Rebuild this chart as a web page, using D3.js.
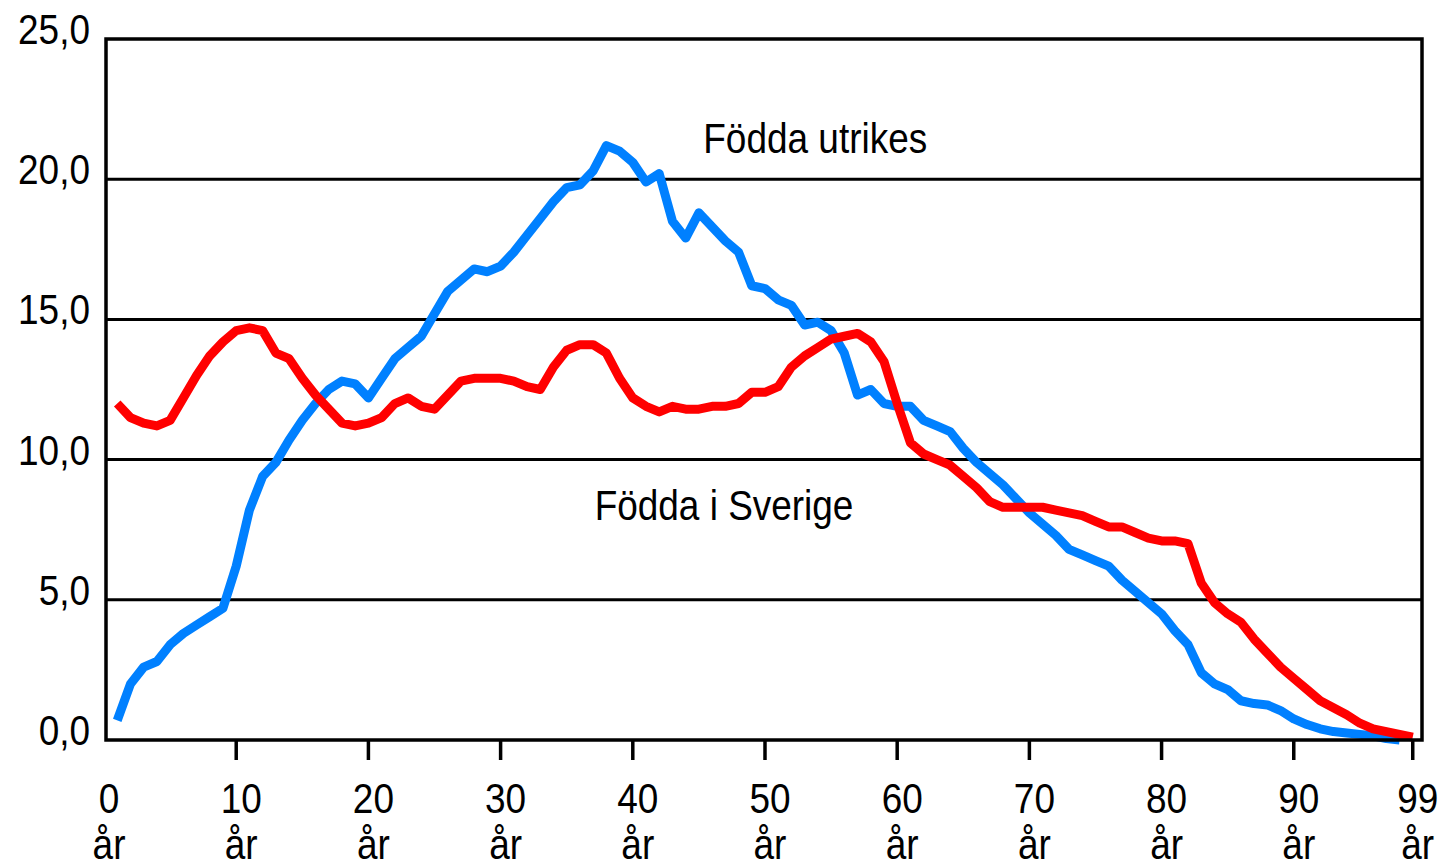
<!DOCTYPE html>
<html>
<head>
<meta charset="utf-8">
<script src="https://cdn.jsdelivr.net/npm/d3@7/dist/d3.min.js"></script>
<style>
  html, body { margin: 0; padding: 0; background: #fff; }
  svg text { font-family: "Liberation Sans", Arial, sans-serif; fill: #000; }
</style>
</head>
<body>
<div id="chart"></div>
<script>
// ages 1..99 (share in percent)
var ages = d3.range(1, 100);

// Födda utrikes (blue), ages 1..98
var bornAbroad = [
  0.7, 2.0, 2.6, 2.8, 3.4, 3.8, 4.1, 4.4, 4.7, 6.2,
  8.2, 9.4, 9.9, 10.7, 11.4, 12.0, 12.5, 12.8, 12.7, 12.2,
  12.9, 13.6, 14.0, 14.4, 15.2, 16.0, 16.4, 16.8, 16.7, 16.9,
  17.4, 18.0, 18.6, 19.2, 19.7, 19.8, 20.3, 21.2, 21.0, 20.6,
  19.9, 20.2, 18.5, 17.9, 18.8, 18.3, 17.8, 17.4, 16.2, 16.1,
  15.7, 15.5, 14.8, 14.9, 14.6, 13.8, 12.3, 12.5, 12.0, 11.9,
  11.9, 11.4, 11.2, 11.0, 10.4, 9.9, 9.5, 9.1, 8.6, 8.1,
  7.7, 7.3, 6.8, 6.6, 6.4, 6.2, 5.7, 5.3, 4.9, 4.5,
  3.9, 3.4, 2.4, 2.0, 1.8, 1.4, 1.3, 1.25, 1.05, 0.75,
  0.55, 0.4, 0.3, 0.25, 0.2, 0.15, 0.05, 0.0
];

// Födda i Sverige (red), ages 1..99
var bornSweden = [
  12.0, 11.5, 11.3, 11.2, 11.4, 12.2, 13.0, 13.7, 14.2, 14.6,
  14.7, 14.6, 13.8, 13.6, 12.9, 12.3, 11.8, 11.3, 11.2, 11.3,
  11.5, 12.0, 12.2, 11.9, 11.8, 12.3, 12.8, 12.9, 12.9, 12.9,
  12.8, 12.6, 12.5, 13.3, 13.9, 14.1, 14.1, 13.8, 12.9, 12.2,
  11.9, 11.7, 11.9, 11.8, 11.8, 11.9, 11.9, 12.0, 12.4, 12.4,
  12.6, 13.3, 13.7, 14.0, 14.3, 14.4, 14.5, 14.2, 13.5, 12.0,
  10.6, 10.2, 10.0, 9.8, 9.4, 9.0, 8.5, 8.3, 8.3, 8.3,
  8.3, 8.2, 8.1, 8.0, 7.8, 7.6, 7.6, 7.4, 7.2, 7.1,
  7.1, 7.0, 5.6, 4.9, 4.5, 4.2, 3.6, 3.1, 2.6, 2.2,
  1.8, 1.4, 1.15, 0.9, 0.6, 0.4, 0.3, 0.2, 0.1
];

var yTicks = [0, 5, 10, 15, 20, 25];
var xTicks = [10, 20, 30, 40, 50, 60, 70, 80, 90, 99];
var xLabels = [0, 10, 20, 30, 40, 50, 60, 70, 80, 90, 99];

var seriesLabels = [
  {name: "Födda utrikes", age: 53.8, value: 20.95},
  {name: "Födda i Sverige", age: 46.9, value: 7.85}
];

var chartW = 1443, chartH = 862;
var plotL = 106, plotR = 1422, plotT = 39, plotB = 740;

var x = d3.scaleLinear().domain([0.15, 99.7]).range([plotL, plotR]);
var y = d3.scaleLinear().domain([0, 25]).range([plotB, plotT]);

var svg = d3.select("#chart").append("svg")
  .attr("width", chartW)
  .attr("height", chartH);

// horizontal grid lines
svg.append("g")
  .selectAll("line")
  .data(yTicks.filter(function(d) { return d > 0 && d < 25; }))
  .enter()
  .append("line")
  .attr("x1", plotL).attr("x2", plotR)
  .attr("y1", d => y(d)).attr("y2", d => y(d))
  .attr("stroke", "#000")
  .attr("stroke-width", 3);

// y labels
svg.append("g")
  .selectAll("text")
  .data(yTicks)
  .enter()
  .append("text")
  .attr("text-anchor", "end")
  .attr("font-size", 42)
  .attr("transform", d => "translate(90," + (y(d) + 5) + ") scale(0.88,1)")
  .text(d => d3.format(".1f")(d).replace(".", ","));

// x ticks
svg.append("g")
  .selectAll("line")
  .data(xTicks)
  .enter()
  .append("line")
  .attr("x1", d => x(d)).attr("x2", d => x(d))
  .attr("y1", plotB).attr("y2", plotB + 20)
  .attr("stroke", "#000")
  .attr("stroke-width", 3.5);

// x labels, two lines
var xl = svg.append("g")
  .selectAll("g")
  .data(xLabels)
  .enter()
  .append("g")
  .attr("transform", d => "translate(" + (x(d) + 5) + ",0)");

xl.append("text")
  .attr("text-anchor", "middle")
  .attr("font-size", 42)
  .attr("transform", "translate(0,813) scale(0.88,1)")
  .text(d => d);

xl.append("text")
  .attr("text-anchor", "middle")
  .attr("font-size", 42)
  .attr("transform", "translate(0,859) scale(0.88,1)")
  .text("år");

var line = d3.line()
  .x(d => x(d[0]))
  .y(d => y(d[1]));

svg.append("path")
  .datum(bornAbroad.map((v, i) => [ages[i], v]))
  .attr("d", line)
  .attr("fill", "none")
  .attr("stroke", "#0080ff")
  .attr("stroke-width", 9)
  .attr("stroke-linejoin", "round");

svg.append("path")
  .datum(bornSweden.map((v, i) => [ages[i], v]))
  .attr("d", line)
  .attr("fill", "none")
  .attr("stroke", "#ff0000")
  .attr("stroke-width", 9)
  .attr("stroke-linejoin", "round");

// frame
svg.append("rect")
  .attr("x", plotL).attr("y", plotT)
  .attr("width", plotR - plotL).attr("height", plotB - plotT)
  .attr("fill", "none")
  .attr("stroke", "#000")
  .attr("stroke-width", 3.5);

// series labels
svg.append("g")
  .selectAll("text")
  .data(seriesLabels)
  .enter()
  .append("text")
  .attr("text-anchor", "middle")
  .attr("font-size", 42)
  .attr("transform", d => "translate(" + x(d.age) + "," + y(d.value) + ") scale(0.88,1)")
  .text(d => d.name);
</script>
</body>
</html>
